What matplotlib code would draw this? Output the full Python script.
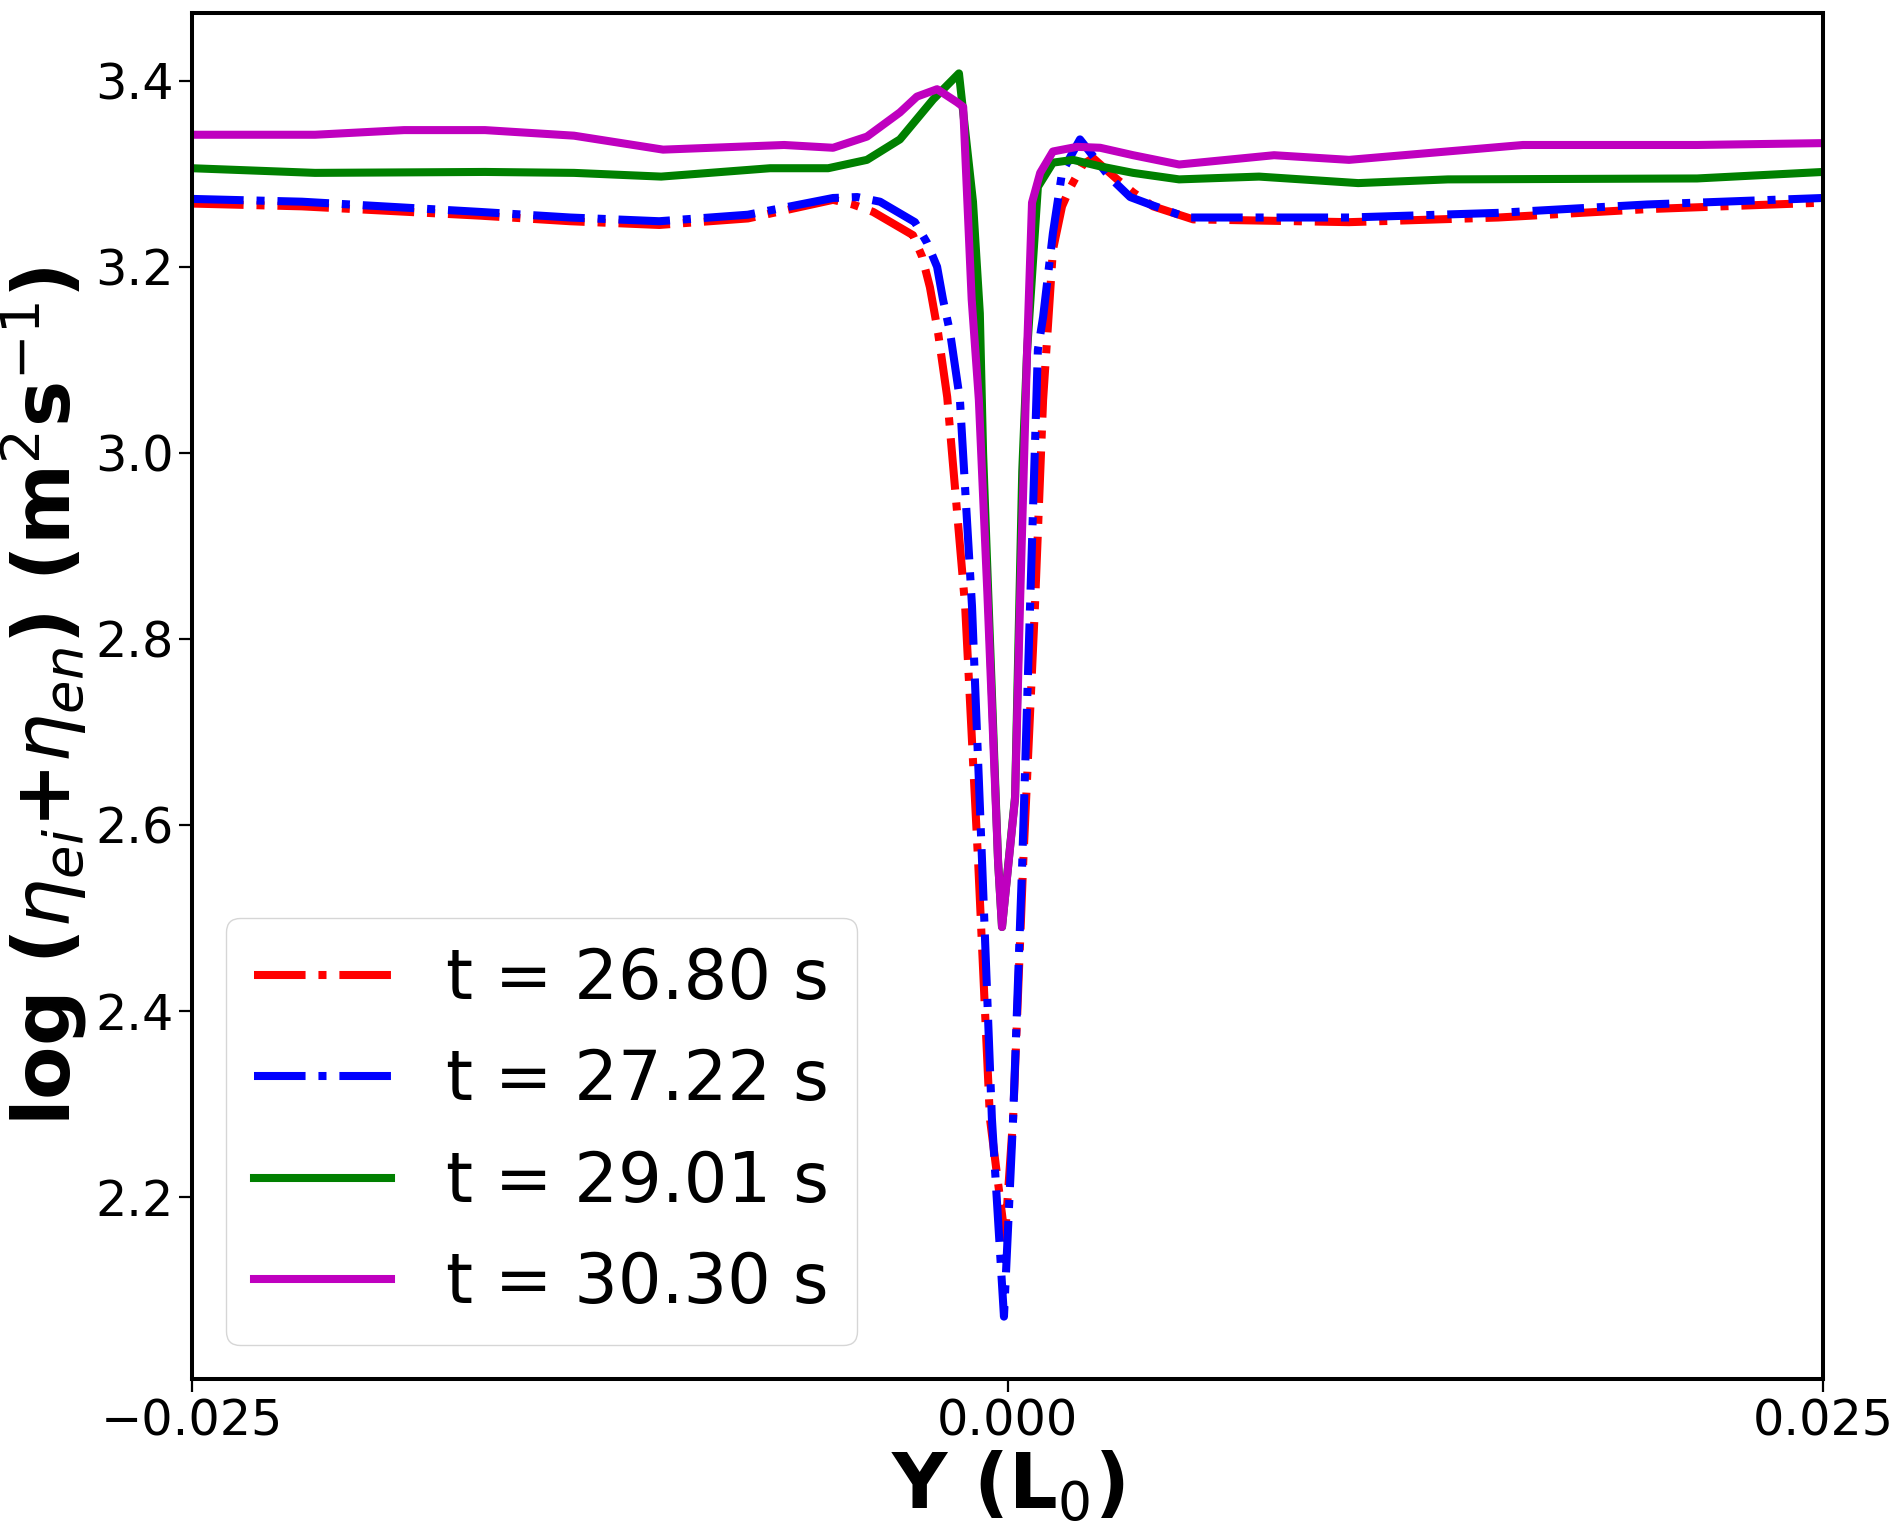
import matplotlib
matplotlib.use("Agg")
import matplotlib.pyplot as plt

# ---- data ----
labels = ["t = 26.80 s", "t = 27.22 s", "t = 29.01 s", "t = 30.30 s"]

x_red = [-0.02500, -0.02163, -0.01617, -0.01341, -0.01068, -0.00796, -0.00535,
         -0.00474, -0.00412, -0.00290, -0.00262, -0.00238, -0.00213, -0.00185,
         -0.00130, -0.00090, -0.00054, -0.00008, 0.00017, 0.00048, 0.00084,
         0.00109, 0.00139, 0.00167, 0.00192, 0.00231, 0.00262, 0.00336, 0.00385,
         0.00446, 0.00569, 0.01047, 0.01504, 0.01960, 0.02500]
y_red = [3.268, 3.265, 3.255, 3.249, 3.245, 3.252, 3.272,
         3.267, 3.259, 3.234, 3.211, 3.178, 3.129, 3.060,
         2.835, 2.559, 2.284, 2.156, 2.284, 2.559, 2.835,
         3.057, 3.218, 3.265, 3.285, 3.310, 3.317, 3.294, 3.280,
         3.265, 3.251, 3.248, 3.253, 3.262, 3.269]

x_blue = [-0.02500, -0.02163, -0.01617, -0.01341, -0.01068, -0.00796, -0.00535,
          -0.00461, -0.00391, -0.00284, -0.00247, -0.00216, -0.00198, -0.00176,
          -0.00146, -0.00109, -0.00078, -0.00048, -0.00011, 0.00017, 0.00045,
          0.00069, 0.00093, 0.00109, 0.00139, 0.00167, 0.00192, 0.00222, 0.00314,
          0.00376, 0.00437, 0.00550, 0.01047, 0.01504, 0.01960, 0.02500]
y_blue = [3.273, 3.270, 3.259, 3.253, 3.249, 3.256, 3.274,
          3.275, 3.270, 3.248, 3.226, 3.200, 3.165, 3.129,
          3.057, 2.835, 2.559, 2.284, 2.071, 2.284, 2.559,
          2.835, 3.111, 3.146, 3.236, 3.301, 3.318, 3.337, 3.296,
          3.275, 3.267, 3.253, 3.253, 3.258, 3.267, 3.274]

x_green = [-0.02500, -0.02123, -0.01602, -0.01329, -0.01062, -0.00728, -0.00550,
           -0.00431, -0.00330, -0.00228, -0.00149, -0.00106, -0.00085, -0.00075,
           -0.00029, -0.00017, 0.00023, 0.00045, 0.00060, 0.00093, 0.00139,
           0.00201, 0.00284, 0.00385, 0.00526, 0.00771, 0.01075, 0.01350,
           0.02114, 0.02500]
y_green = [3.306, 3.301, 3.302, 3.301, 3.297, 3.306, 3.306,
           3.315, 3.337, 3.380, 3.408, 3.270, 3.150, 3.000,
           2.560, 2.490, 2.630, 2.980, 3.110, 3.286, 3.312,
           3.315, 3.308, 3.301, 3.294, 3.297, 3.290, 3.294,
           3.295, 3.302]

x_mag = [-0.02500, -0.02123, -0.01850, -0.01602, -0.01329, -0.01056, -0.00685,
         -0.00535, -0.00431, -0.00330, -0.00278, -0.00216, -0.00155, -0.00136,
         -0.00110, -0.00088, -0.00062, -0.00029, -0.00017, 0.00023, 0.00038,
         0.00060, 0.00075, 0.00100, 0.00139, 0.00213, 0.00284, 0.00385, 0.00526,
         0.00817, 0.01047, 0.01580, 0.02114, 0.02500]
y_mag = [3.342, 3.342, 3.347, 3.347, 3.341, 3.326, 3.331,
         3.328, 3.340, 3.366, 3.383, 3.391, 3.377, 3.372,
         3.165, 3.057, 2.850, 2.560, 2.490, 2.628, 2.835,
         3.111, 3.269, 3.301, 3.324, 3.329, 3.328, 3.320, 3.310,
         3.320, 3.315, 3.331, 3.331, 3.333]

x_ticks = [-0.025, 0.0, 0.025]
x_ticklabels = ["\u22120.025", "0.000", "0.025"]
y_ticks = [2.2, 2.4, 2.6, 2.8, 3.0, 3.2, 3.4]
y_ticklabels = ["2.2", "2.4", "2.6", "2.8", "3.0", "3.2", "3.4"]

# ---- figure ----
fig = plt.figure(figsize=(18.98, 15.22), dpi=100)
ax = fig.add_axes([0.1012, 0.0940, 0.8593, 0.8975])

lw = 5.8
ax.plot(x_red, y_red, color="r", ls="-.", lw=lw, label=labels[0])
ax.plot(x_blue, y_blue, color="b", ls="-.", lw=lw, label=labels[1])
ax.plot(x_green, y_green, color="g", ls="-", lw=lw, label=labels[2])
ax.plot(x_mag, y_mag, color="m", ls="-", lw=lw, label=labels[3])

ax.set_xlim(-0.025, 0.025)
ax.set_ylim(2.004, 3.473)
ax.set_xticks(x_ticks)
ax.set_xticklabels(x_ticklabels)
ax.set_yticks(y_ticks)
ax.set_yticklabels(y_ticklabels)
ax.tick_params(axis="both", labelsize=35.5, length=9.5, width=1.6, pad=4)

for s in ax.spines.values():
    s.set_linewidth(2.9)

ax.set_xlabel(r"Y (L$_0$)", fontsize=55, fontweight="bold", labelpad=2)
ax.set_ylabel(r"log ($\eta_{ei}$+$\eta_{en}$) (m$^2$s$^{-1}$)",
              fontsize=56, fontweight="bold", labelpad=4)

ax.legend(loc="lower left", fontsize=49.5)

fig.savefig("out.png", dpi=100)
